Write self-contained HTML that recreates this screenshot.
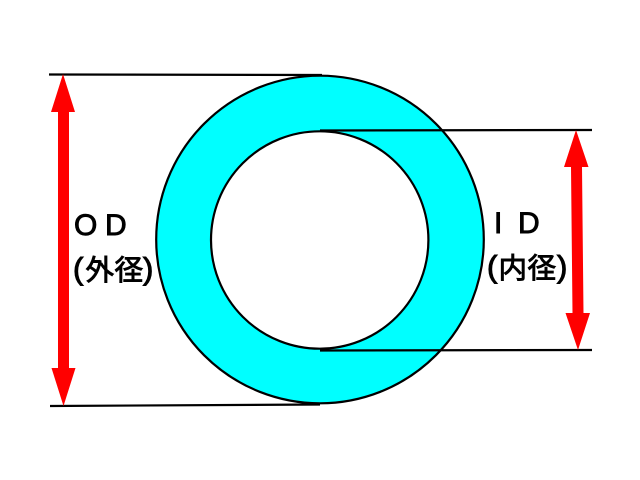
<!DOCTYPE html>
<html>
<head>
<meta charset="utf-8">
<style>
html,body{margin:0;padding:0;background:#fff;width:640px;height:480px;overflow:hidden}
svg{display:block}
text{fill:#000}
.l{font-family:"Liberation Sans","Noto Sans CJK JP",sans-serif;font-size:30px;stroke:#000;stroke-width:.9px}
.j{font-family:"Liberation Sans","Noto Sans CJK JP",sans-serif;font-size:28.500px;stroke:#000;stroke-width:.9px}
.p{font-family:"Liberation Sans",sans-serif;font-size:31px;stroke:#000;stroke-width:1px}
</style>
</head>
<body>
<svg width="640" height="480" viewBox="0 0 640 480" xmlns="http://www.w3.org/2000/svg">
<circle cx="320" cy="239.500" r="163.800" fill="#00ffff" stroke="#000" stroke-width="2.200"/>
<circle cx="319.700" cy="240" r="108.700" fill="#fff" stroke="#000" stroke-width="2.200"/>
<g stroke="#000" stroke-width="2.200" fill="none">
<path d="M49 74.500L322 75"/>
<path d="M50 406L320 404.500"/>
<path d="M320 130.500L592 130"/>
<path d="M320 350.500L592 350"/>
</g>
<g fill="#ff0000">
<path d="M63 74L75 112L69 112L69 368L75.500 368L63.500 406L51.500 368L58 368L58 112L51 112Z"/>
<path d="M576 130L588.500 167L582 167L583.500 313L590 313L578 350L565.500 313L572.500 313L571 167L564 167Z"/>
</g>
<text class="l" x="74" y="235">O</text>
<text class="l" x="105" y="235">D</text>
<text class="p" x="73" y="279">(</text>
<text class="j" x="85.500" y="280">外</text>
<text class="j" x="114.500" y="280">径</text>
<text class="p" x="143" y="279">)</text>
<text class="l" x="494" y="233">I</text>
<text class="l" x="518" y="233">D</text>
<text class="p" x="487" y="277">(</text>
<text class="j" x="498.500" y="278">内</text>
<text class="j" x="527.500" y="278">径</text>
<text class="p" x="557" y="277">)</text>
</svg>
</body>
</html>
